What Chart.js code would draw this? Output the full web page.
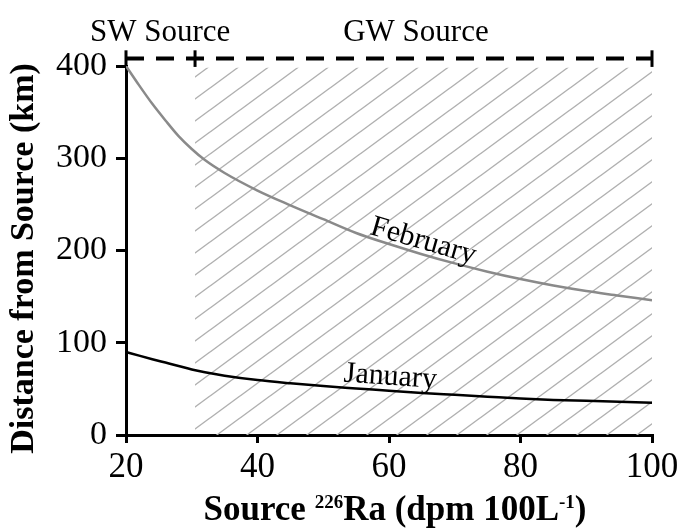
<!DOCTYPE html>
<html>
<head>
<meta charset="utf-8">
<script src="https://cdn.jsdelivr.net/npm/chart.js@4/dist/chart.umd.min.js"></script>
<style>
  html, body { margin: 0; padding: 0; background: #fff; }
  #wrap { width: 680px; height: 530px; }
</style>
</head>
<body>
<div id="wrap"><canvas id="chart" width="680" height="530"></canvas></div>
<script>
// source Ra-226 activity (dpm 100L-1)
var sourceRa = [20, 22, 24, 26, 28, 30, 32, 35, 40, 45, 50, 55, 60, 65, 70, 75, 80, 85, 90, 95, 100];
// distance from source (km)
var febDistance = [400, 379, 359, 341, 324, 310, 298, 284, 265, 249, 234, 219, 207, 196, 186, 177, 169, 162, 156, 151, 146];
var janDistance = [90, 86, 82.2, 78.5, 74.8, 71, 68, 64.3, 59.5, 56, 53, 50.5, 48, 45.5, 43.5, 41.5, 39.5, 38, 37, 36, 35];

// SW / GW source ranges along the top
var boundaryX = [20, 30.5, 100];
var boundaryLevel = 408;
var boundaryTick = [399, 417];
var gwRange = [30.5, 100];
var gwTop = 398;
var regionLabels = ['SW Source', 'GW Source'];
var regionLabelX = [25.2, 64.1];

// curve labels: text, x, y, rotation (deg)
var curveLabels = ['February', 'January'];
var curveLabelX = [65.2, 60.2];
var curveLabelY = [210, 63];
var curveLabelAngle = [16, 4];

var serif = '"Liberation Serif", "Times New Roman", serif';

function toPoints(xs, ys) {
  return xs.map(function (x, i) { return { x: x, y: ys[i] }; });
}

function makeHatch(ctx) {
  var w = 30, h = 22;
  var tile = document.createElement('canvas');
  tile.width = w;
  tile.height = h;
  var t = tile.getContext('2d');
  t.strokeStyle = '#b0b0b0';
  t.lineWidth = 1.4;
  for (var k = -1; k <= 1; k++) {
    t.beginPath();
    t.moveTo(k * w - w, 2 * h);
    t.lineTo(k * w + 2 * w, -h);
    t.stroke();
  }
  return ctx.createPattern(tile, 'repeat');
}

var canvas = document.getElementById('chart');
var ctx = canvas.getContext('2d');

var datasets = [
  {
    label: 'February',
    data: toPoints(sourceRa, febDistance),
    borderColor: '#8a8a8a',
    borderWidth: 2.5,
    cubicInterpolationMode: 'monotone',
    pointRadius: 0,
    order: 1
  },
  {
    label: 'January',
    data: toPoints(sourceRa, janDistance),
    borderColor: '#000',
    borderWidth: 2.5,
    cubicInterpolationMode: 'monotone',
    pointRadius: 0,
    order: 1
  },
  {
    label: 'boundary',
    data: [{ x: boundaryX[0], y: boundaryLevel }, { x: boundaryX[2], y: boundaryLevel }],
    borderColor: '#000',
    borderWidth: 4,
    borderDash: [18, 12],
    pointRadius: 0,
    clip: false,
    order: 2
  },
  {
    label: 'gw',
    data: [{ x: gwRange[0], y: gwTop }, { x: gwRange[1], y: gwTop }],
    borderWidth: 0,
    borderColor: 'rgba(0,0,0,0)',
    backgroundColor: makeHatch(ctx),
    fill: 'origin',
    pointRadius: 0,
    order: 10
  }
];

boundaryX.forEach(function (bx) {
  datasets.push({
    label: 'tick',
    data: [{ x: bx, y: boundaryTick[0] }, { x: bx, y: boundaryTick[1] }],
    borderColor: '#000',
    borderWidth: 3,
    pointRadius: 0,
    clip: false,
    order: 2
  });
});

var textPlugin = {
  id: 'texts',
  afterDraw: function (chart) {
    var c = chart.ctx;
    var xs = chart.scales.x;
    var ys = chart.scales.y;
    var area = chart.chartArea;
    c.save();
    c.fillStyle = '#000';

    // region labels
    c.font = '31px ' + serif;
    c.textAlign = 'center';
    c.textBaseline = 'alphabetic';
    regionLabels.forEach(function (txt, i) {
      c.fillText(txt, xs.getPixelForValue(regionLabelX[i]), 41);
    });

    // curve labels
    curveLabels.forEach(function (txt, i) {
      c.save();
      c.translate(xs.getPixelForValue(curveLabelX[i]), ys.getPixelForValue(curveLabelY[i]));
      c.rotate(curveLabelAngle[i] * Math.PI / 180);
      c.font = '30px ' + serif;
      c.textAlign = 'center';
      c.textBaseline = 'middle';
      c.fillText(txt, 0, 0);
      c.restore();
    });

    // x axis title with superscripts
    var parts = [
      { t: 'Source ', s: false },
      { t: '226', s: true },
      { t: 'Ra (dpm 100L', s: false },
      { t: '-1', s: true },
      { t: ')', s: false }
    ];
    var big = 'bold 35px ' + serif;
    var small = 'bold 19px ' + serif;
    var total = 0;
    parts.forEach(function (p) {
      c.font = p.s ? small : big;
      p.w = c.measureText(p.t).width;
      total += p.w;
    });
    var x = (area.left + area.right) / 2 + 6 - total / 2;
    c.textAlign = 'left';
    c.textBaseline = 'alphabetic';
    parts.forEach(function (p) {
      c.font = p.s ? small : big;
      c.fillText(p.t, x, p.s ? 508 : 520);
      x += p.w;
    });

    // y axis title
    c.save();
    c.translate(33, (area.top + area.bottom) / 2 + 8);
    c.rotate(-Math.PI / 2);
    c.font = 'bold 34px ' + serif;
    c.textAlign = 'center';
    c.textBaseline = 'alphabetic';
    c.fillText('Distance from Source (km)', 0, 0);
    c.restore();

    c.restore();
  }
};

new Chart(canvas, {
  type: 'line',
  data: { datasets: datasets },
  plugins: [textPlugin],
  options: {
    responsive: false,
    animation: false,
    layout: { padding: { top: 66, right: 28, left: 0, bottom: 0 } },
    plugins: {
      legend: { display: false },
      tooltip: { enabled: false }
    },
    scales: {
      x: {
        type: 'linear',
        min: 20,
        max: 100,
        afterFit: function (scale) {
          scale.height = 95;
          scale.paddingRight = 0;
        },
        ticks: {
          stepSize: 20,
          color: '#000',
          padding: 4,
          font: { family: serif, size: 35 }
        },
        grid: {
          drawOnChartArea: false,
          color: '#000',
          lineWidth: 3,
          tickLength: 8
        },
        border: { color: '#000', width: 3 }
      },
      y: {
        min: 0,
        max: 400,
        afterFit: function (scale) { scale.width = 126; },
        ticks: {
          stepSize: 100,
          color: '#000',
          padding: 9,
          font: { family: serif, size: 34 }
        },
        grid: {
          drawOnChartArea: false,
          color: '#000',
          lineWidth: 3,
          tickLength: 10
        },
        border: { color: '#000', width: 3 }
      }
    }
  }
});
</script>
</body>
</html>
